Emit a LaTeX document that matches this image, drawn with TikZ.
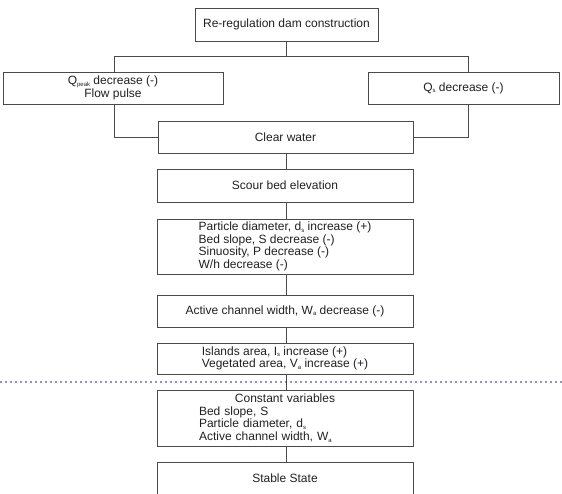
\documentclass[tikz,border=0pt]{standalone}
\usepackage{fontspec}
\setmainfont{Liberation Sans}
\newcommand{\lsub}[1]{\raisebox{-1.6pt}{\fontsize{6}{6}\selectfont #1}}
\definecolor{boxline}{HTML}{4A4A4A}
\definecolor{txt}{HTML}{202020}
\definecolor{dotblue}{HTML}{1E1E9E}
\begin{document}
\begin{tikzpicture}[x=1pt,y=-1pt,
  box/.style={draw=boxline, line width=0.9pt, rectangle, inner sep=0pt,
    text=txt, font=\fontsize{12}{12.7}\selectfont},
  conn/.style={draw=boxline, line width=0.9pt}]
\useasboundingbox (0,0) rectangle (562,493);
\node[box, minimum width=183pt, minimum height=33pt] (top) at (286.5,24.5) {Re-regulation dam construction};
\node[box, minimum width=220pt, minimum height=32pt, align=center] (left) at (113,88) {Q\lsub{peak} decrease (-)\\Flow pulse};
\node[box, minimum width=191pt, minimum height=32pt] (right) at (463.5,88) {Q\lsub{s} decrease (-)};
\node[box, minimum width=255pt, minimum height=32pt] (clear) at (285.5,137) {Clear water};
\node[box, minimum width=256pt, minimum height=33pt] (scour) at (285,185.5) {Scour bed elevation};
\node[box, minimum width=256pt, minimum height=55pt, align=left] (particle) at (285,246.5) {Particle diameter, d\lsub{s} increase (+)\\Bed slope, S decrease (-)\\Sinuosity, P decrease (-)\\W/h decrease (-)};
\node[box, minimum width=256pt, minimum height=32pt] (active) at (285,311) {Active channel width, W\lsub{a} decrease (-)};
\node[box, minimum width=256pt, minimum height=31pt, align=left] (islands) at (285,358.5) {Islands area, I\lsub{s} increase (+)\\Vegetated area, V\lsub{a} increase (+)};
\node[box, minimum width=256pt, minimum height=56pt, align=left, text width=172pt, inner xsep=42pt] (constant) at (285,418) {\makebox[172pt]{Constant variables}\\Bed slope, S\\Particle diameter, d\lsub{s}\\Active channel width, W\lsub{a}};
\node[box, minimum width=256pt, minimum height=33pt] (stable) at (285,478.5) {Stable State};
% connectors
\draw[conn] (top.south) -- ++(0,16);
\draw[conn] ([xshift=1pt]left.north) -- ++(0,-15) -| ([xshift=4.5pt]right.north);
\draw[conn] ([xshift=1pt]left.south) |- (clear.west);
\draw[conn] ([xshift=4.5pt]right.south) |- (clear.east);
\draw[conn] ([xshift=0.5pt]clear.south) -- ([xshift=1pt]scour.north);
\draw[conn] ([xshift=1pt]scour.south) -- ([xshift=1pt]particle.north);
\draw[conn] ([xshift=1pt]particle.south) -- ([xshift=1pt]active.north);
\draw[conn] ([xshift=1pt]active.south) -- ([xshift=1pt]islands.north);
\draw[conn] ([xshift=1pt]islands.south) -- ([xshift=1pt]constant.north);
\draw[conn] ([xshift=1pt]constant.south) -- ([xshift=1pt]stable.north);
% dotted separator
\coordinate (sepL) at (1,382);
\coordinate (sepR) at (562,382);
\draw[dotblue, line width=1.8pt, line cap=round, dash pattern=on 0pt off 5pt] (sepL) -- (sepR);
\end{tikzpicture}
\end{document}
